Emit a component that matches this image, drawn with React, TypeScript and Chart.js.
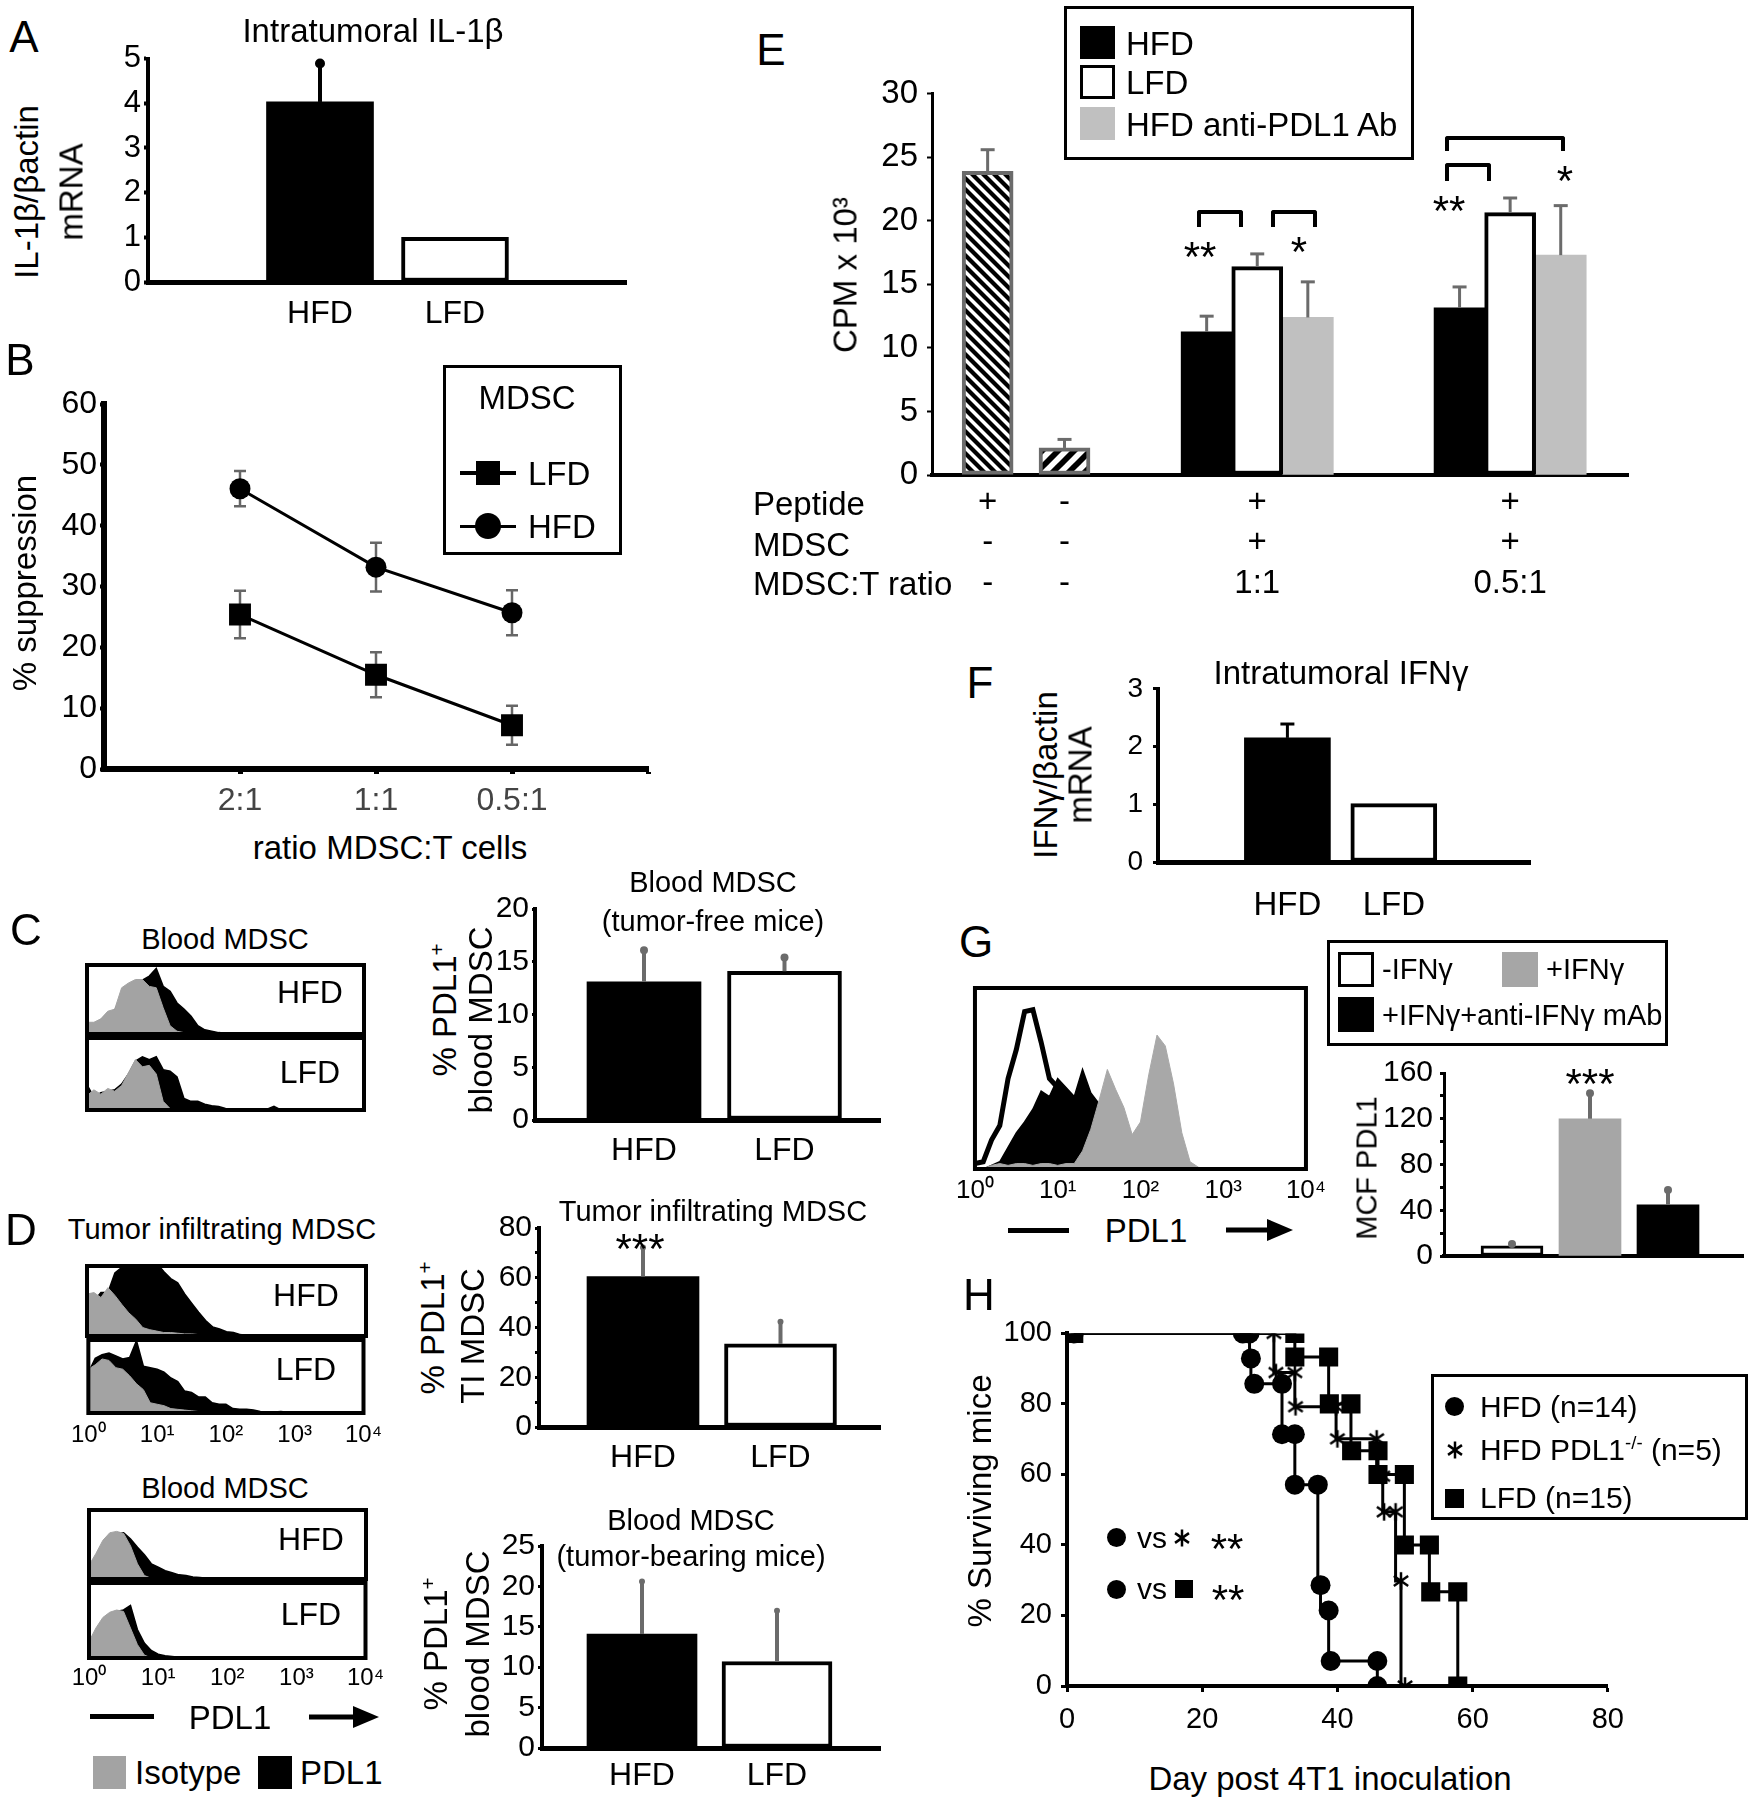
import React, { useEffect, useRef } from 'react';
import { Chart, registerables } from 'chart.js';

Chart.register(...registerables);

const FONT = "'Liberation Sans', Arial, Helvetica, sans-serif";

/* ======================= DATA ======================= */
// A – intratumoral IL-1β / βactin mRNA
const dietLabels = ['HFD', 'LFD'];
const il1bMean = [4.03, 1.0];
const il1bErr = [0.86, 0];

// B – % suppression vs MDSC:T ratio
const ratioLabels = ['2:1', '1:1', '0.5:1'];
const suppressionLFD = [25.4, 15.5, 7.2];
const suppressionLFDErr = [3.9, 3.7, 3.2];
const suppressionHFD = [46.1, 33.2, 25.7];
const suppressionHFDErr = [2.9, 4.0, 3.7];

// C – % PDL1+ blood MDSC (tumor-free mice)
const pdl1BloodFree = [13.1, 14.1];
const pdl1BloodFreeErr = [3.0, 1.3];

// D – % PDL1+ tumor infiltrating MDSC, blood MDSC (tumor-bearing)
const pdl1TumorInf = [60.5, 33.4];
const pdl1TumorInfErr = [11.7, 8.9];
const pdl1BloodTB = [14.1, 10.7];
const pdl1BloodTBErr = [6.5, 6.3];

// E – CPM x 10^3
const eConditionLabels = [['+', '-', '-'], ['-', '-', '-'], ['+', '+', '1:1'], ['+', '+', '0.5:1']];
const eControlCPM = [23.9, 2.13];
const eControlErr = [1.7, 0.67];
const eHFD = [11.27, 13.16];
const eHFDErr = [1.23, 1.64];
const eLFD = [16.4, 20.65];
const eLFDErr = [1.0, 1.15];
const eAntiPDL1 = [12.4, 17.3];
const eAntiPDL1Err = [2.8, 3.9];

// F – intratumoral IFNγ / βactin mRNA
const ifngMean = [2.15, 1.01];
const ifngErr = [0.24, 0];

// G – MCF PDL1
const mcfLabels = ['-IFNγ', '+IFNγ', '+IFNγ+anti-IFNγ mAb'];
const mcfPDL1 = [9, 120, 44.8];
const mcfPDL1Err = [1.5, 22.4, 12.8];

// H – survival (Kaplan–Meier steps)
const hfdDays = [1, 26, 27, 27.2, 27.7, 31.8, 31.8, 33.7, 33.7, 37.1, 37.5, 38.7, 39, 45.9, 45.9];
const hfdSurv = [100, 100, 100, 92.9, 85.7, 85.7, 71.4, 71.4, 57.1, 57.1, 28.6, 21.4, 7.1, 7.1, 0];
const pdlDays = [1, 30.6, 30.9, 33.7, 33.8, 39.8, 40, 45.8, 46.7, 46.9, 48.6, 49.4, 50];
const pdlSurv = [100, 100, 88.9, 88.9, 79.2, 79.2, 70.1, 70.1, 59.5, 49.4, 49.4, 29.8, 0];
const lfdDays = [1, 33.7, 33.7, 38.7, 38.8, 42, 42.1, 46, 46, 49.9, 49.9, 53.6, 53.8, 57.8, 57.8];
const lfdSurv = [100, 100, 93.3, 93.3, 80, 80, 66.7, 66.7, 60, 60, 40, 40, 26.7, 26.7, 0];

// Flow histograms (event counts, % of panel height, 0.1-decade channels from 10^0)
const decadeLabels = ['10⁰', '10¹', '10²', '10³', '10⁴'];
const HIST_BIN = 0.1;
const cHfdIso = [17, 17, 22, 33, 36, 67, 74, 79, 79, 69, 67, 38, 12, 4, 2, 1, 1, 1, 1, 1, 0];
const cHfdPdl1 = [12, 14, 20, 30, 34, 55, 65, 72, 78, 84, 95, 69, 62, 45, 36, 26, 12, 6, 4, 2, 1, 0];
const cLfdIso = [20, 28, 22, 30, 26, 34, 52, 70, 60, 62, 50, 12, 2, 1, 1, 1, 0];
const cLfdPdl1 = [35, 18, 24, 26, 28, 36, 50, 68, 74, 70, 74, 56, 54, 46, 16, 12, 12, 8, 6, 5, 2, 1, 1, 1, 1, 1, 1, 5, 0];
const dTiHfdIso = [60, 62, 55, 69, 58, 45, 33, 24, 12, 9, 7, 5, 5, 4, 3, 3, 2, 2, 2, 1, 1, 1, 1, 1, 0];
const dTiHfdPdl1 = [40, 50, 62, 62, 90, 98, 106, 106, 106, 106, 104, 92, 82, 76, 60, 47, 34, 22, 13, 10, 6, 5, 2, 0];
const dTiLfdIso = [60, 66, 74, 72, 62, 60, 51, 40, 32, 14, 12, 10, 6, 5, 4, 3, 2, 2, 2, 2, 2, 2, 2, 2, 1, 1, 1, 1, 3, 0];
const dTiLfdPdl1 = [55, 75, 80, 82, 78, 74, 76, 99, 64, 62, 60, 56, 48, 43, 30, 28, 22, 22, 14, 12, 12, 6, 5, 5, 4, 2, 1, 0];
const dBlHfdIso = [20, 37, 56, 67, 69, 66, 48, 22, 5, 1, 0];
const dBlHfdPdl1 = [15, 30, 50, 60, 66, 67, 58, 46, 35, 22, 17, 12, 9, 6, 5, 3, 2, 1, 0];
const dBlLfdIso = [22, 40, 54, 61, 64, 62, 40, 18, 4, 0];
const dBlLfdPdl1 = [18, 35, 50, 58, 62, 64, 70, 38, 20, 10, 5, 3, 2, 1, 1, 1, 1, 1, 1, 1, 0];
const gMinusIFN = [3, 4, 16, 24, 50, 66, 87, 88, 70, 50, 45, 30, 12, 3, 3, 3, 3, 2, 3, 2, 2, 3, 2, 2, 2, 2, 0];
const gPlusAnti = [0, 0, 2, 4, 12, 20, 26, 33, 43, 40, 50, 45, 40, 55, 42, 36, 22, 10, 5, 3, 3, 2, 2, 2, 1, 1, 0];
const gPlusIFN = [0, 0, 2, 3, 2, 3, 3, 2, 3, 3, 2, 3, 3, 10, 22, 38, 55, 44, 34, 19, 26, 52, 74, 68, 47, 20, 4, 1, 0];

/* ======================= PLUGINS ======================= */
function drawErr(chart: any) {
  const ctx = chart.ctx;
  const ys = chart.scales.y;
  chart.data.datasets.forEach((ds: any, di: number) => {
    if (!ds.errUp) return;
    const meta = chart.getDatasetMeta(di);
    const st = ds.errStyle;
    meta.data.forEach((el: any, i: number) => {
      const up = ds.errUp[i] || 0;
      const dn = ds.errDown ? ds.errDown[i] || 0 : 0;
      if (!up && !dn) return;
      const d = ds.data[i];
      const v = typeof d === 'number' ? d : d.y;
      const x = el.x;
      const yT = ys.getPixelForValue(v + up);
      const yB = ys.getPixelForValue(v - dn);
      ctx.save();
      ctx.strokeStyle = st.color;
      ctx.fillStyle = st.color;
      ctx.lineWidth = st.width;
      ctx.beginPath();
      ctx.moveTo(x, yB);
      ctx.lineTo(x, yT);
      ctx.stroke();
      if (st.cap === 'dot') {
        ctx.beginPath();
        ctx.arc(x, yT, st.size, 0, Math.PI * 2);
        ctx.fill();
      } else {
        ctx.beginPath();
        ctx.moveTo(x - st.size, yT);
        ctx.lineTo(x + st.size, yT);
        if (dn) {
          ctx.moveTo(x - st.size, yB);
          ctx.lineTo(x + st.size, yB);
        }
        ctx.stroke();
      }
      ctx.restore();
    });
  });
}

const errPlugin = {
  id: 'errbars',
  beforeDatasetsDraw(chart: any, _a: any, opts: any) {
    if (opts && opts.behind) drawErr(chart);
  },
  afterDatasetsDraw(chart: any, _a: any, opts: any) {
    if (!opts || !opts.behind) drawErr(chart);
  },
};

const framePlugin = {
  id: 'frame',
  afterDraw(chart: any, _a: any, opts: any) {
    const { left, top, right, bottom } = chart.chartArea;
    const ctx = chart.ctx;
    ctx.save();
    ctx.strokeStyle = '#000';
    ctx.lineWidth = (opts && opts.width) || 4;
    ctx.strokeRect(left, top, right - left, bottom - top);
    ctx.restore();
  },
};

/* ======================= HELPERS ======================= */
interface Box4 { l: number; t: number; r: number; b: number }
interface Spec { area: Box4; pad: Box4; build: () => any }

function base(pad: Box4, yShown: boolean, xShown: boolean, extraPlugins: any = {}) {
  return {
    responsive: false,
    maintainAspectRatio: false,
    animation: false,
    devicePixelRatio: 1,
    events: [],
    layout: { padding: { left: yShown ? 0 : pad.l, right: pad.r, top: pad.t, bottom: xShown ? 0 : pad.b } },
    plugins: { legend: { display: false }, tooltip: { enabled: false }, ...extraPlugins },
  };
}

function yLin(pad: Box4, o: any) {
  return {
    type: 'linear',
    position: 'left',
    min: o.min,
    max: o.max,
    afterFit: (s: any) => { s.width = pad.l; },
    ticks: {
      stepSize: o.step,
      autoSkip: false,
      font: { family: FONT, size: o.font },
      color: '#000',
      padding: o.pad,
      callback: (v: number) => (o.every && v % o.every !== 0 ? '' : String(v)),
    },
    grid: { display: true, drawOnChartArea: false, drawTicks: true, tickLength: o.tl, tickWidth: o.tw ?? 3, tickColor: '#000' },
    border: { display: true, color: '#000', width: o.bw },
  };
}

function xCat(area: Box4, pad: Box4, labels: string[], c1: number, cN: number, o: any) {
  const n = labels.length;
  const k = (cN - c1) / (n - 1);
  const min = 1 - (c1 - area.l) / k;
  const max = min + (area.r - area.l) / k;
  return {
    type: 'linear',
    position: 'bottom',
    offset: false,
    min,
    max,
    afterFit: (s: any) => { s.height = pad.b; },
    afterBuildTicks: (s: any) => { s.ticks = labels.map((_, i) => ({ value: i + 1 })); },
    ticks: {
      display: o.show !== false,
      autoSkip: false,
      maxRotation: 0,
      minRotation: 0,
      font: { family: FONT, size: o.font || 30 },
      color: '#000',
      padding: o.pad || 0,
      callback: (_v: any, i: number) => labels[i],
    },
    grid: { display: false, drawTicks: false, offset: false },
    border: { display: true, color: '#000', width: o.bw },
  };
}

function barSpec(p: any): Spec {
  return {
    area: p.area,
    pad: p.pad,
    build: () => ({
      type: 'bar',
      data: {
        datasets: [
          {
            data: p.values.map((v: number, i: number) => ({ x: i + 1, y: v })),
            backgroundColor: p.colors,
            borderColor: '#000',
            borderWidth: p.borders,
            borderSkipped: false,
            barThickness: p.width,
            errUp: p.errs,
            errStyle: p.err,
          },
        ],
      },
      options: {
        ...base(p.pad, true, true),
        scales: {
          x: xCat(p.area, p.pad, p.labels, p.c1, p.cN, p.x),
          y: yLin(p.pad, p.y),
        },
      },
      plugins: [errPlugin],
    }),
  };
}

function histSpec(area: Box4, layers: any[], ticks: any): Spec {
  const pad = { l: 24, t: 4, r: 24, b: ticks ? 36 : 4 };
  return {
    area,
    pad,
    build: () => ({
      type: 'line',
      data: {
        datasets: layers.map((L) => ({
          data: L.values.map((v: number, i: number) => ({ x: i * HIST_BIN, y: v })),
          fill: 'origin',
          backgroundColor: L.fill,
          borderColor: L.stroke,
          borderWidth: L.width,
          pointRadius: 0,
          tension: 0,
        })),
      },
      options: {
        ...base(pad, false, !!ticks, { frame: { width: 4 } }),
        scales: {
          x: {
            type: 'linear',
            min: 0,
            max: 4,
            display: !!ticks,
            afterFit: (s: any) => { s.height = pad.b; },
            ticks: {
              stepSize: 1,
              autoSkip: false,
              maxRotation: 0,
              font: { family: FONT, size: ticks ? ticks.font : 12 },
              color: '#000',
              padding: ticks ? ticks.pad : 0,
              callback: (v: number) => decadeLabels[v],
            },
            grid: { display: false, drawTicks: false },
            border: { display: false },
          },
          y: { display: false, min: 0, max: 100 },
        },
      },
      plugins: [framePlugin],
    }),
  };
}

function stripePattern(p: number, lw: number, dir: 'back' | 'fwd') {
  const c = document.createElement('canvas');
  c.width = p;
  c.height = p;
  const g = c.getContext('2d') as CanvasRenderingContext2D;
  g.fillStyle = '#fff';
  g.fillRect(0, 0, p, p);
  g.strokeStyle = '#000';
  g.lineWidth = lw;
  for (let k = -2; k <= 2; k++) {
    g.beginPath();
    if (dir === 'back') {
      g.moveTo(k * p - p, -p);
      g.lineTo(k * p + 2 * p, 2 * p);
    } else {
      g.moveTo(k * p - p, 2 * p);
      g.lineTo(k * p + 2 * p, -p);
    }
    g.stroke();
  }
  return g.createPattern(c, 'repeat');
}

function asteriskCanvas(size: number, lw: number) {
  const c = document.createElement('canvas');
  c.width = size;
  c.height = size;
  const g = c.getContext('2d') as CanvasRenderingContext2D;
  g.strokeStyle = '#000';
  g.lineWidth = lw;
  const m = size / 2;
  const r = size / 2 - lw / 2;
  g.beginPath();
  [90, 35, 145].forEach((a) => {
    const rad = (a * Math.PI) / 180;
    g.moveTo(m - r * Math.cos(rad), m - r * Math.sin(rad));
    g.lineTo(m + r * Math.cos(rad), m + r * Math.sin(rad));
  });
  g.stroke();
  return c;
}

/* ======================= CHART SPECS ======================= */
const grayErr = (size: number) => ({ color: '#6b6b6b', width: 4, cap: 'dot', size });

const specA = barSpec({
  area: { l: 148, t: 57, r: 626, b: 282 },
  pad: { l: 80, t: 20, r: 12, b: 50 },
  labels: dietLabels, values: il1bMean, errs: il1bErr,
  colors: ['#000', '#fff'], borders: [0, 4], width: 107, c1: 320, cN: 455,
  err: { color: '#000', width: 4, cap: 'dot', size: 5 },
  x: { font: 32, pad: 13, bw: 5 },
  y: { min: 0, max: 5, step: 1, font: 31, pad: 3, tl: 4, tw: 4, bw: 4 },
});

const specC = barSpec({
  area: { l: 535, t: 908, r: 880, b: 1120 },
  pad: { l: 60, t: 20, r: 6, b: 48 },
  labels: dietLabels, values: pdl1BloodFree, errs: pdl1BloodFreeErr,
  colors: ['#000', '#fff'], borders: [0, 4], width: 114, c1: 644, cN: 784.5,
  err: grayErr(4),
  x: { font: 32, pad: 12, bw: 5 },
  y: { min: 0, max: 20, step: 5, font: 30, pad: 3, tl: 3, tw: 3, bw: 4 },
});

const specDTI = barSpec({
  area: { l: 539, t: 1227, r: 880, b: 1427 },
  pad: { l: 60, t: 20, r: 6, b: 50 },
  labels: dietLabels, values: pdl1TumorInf, errs: pdl1TumorInfErr,
  colors: ['#000', '#fff'], borders: [0, 4], width: 112, c1: 643, cN: 780.5,
  err: grayErr(3),
  x: { font: 32, pad: 12, bw: 5 },
  y: { min: 0, max: 80, step: 10, every: 20, font: 30, pad: 3, tl: 4, tw: 3, bw: 4 },
});

const specDBlood = barSpec({
  area: { l: 542, t: 1545, r: 880, b: 1748 },
  pad: { l: 60, t: 20, r: 6, b: 48 },
  labels: dietLabels, values: pdl1BloodTB, errs: pdl1BloodTBErr,
  colors: ['#000', '#fff'], borders: [0, 4], width: 110, c1: 642, cN: 777,
  err: grayErr(3),
  x: { font: 32, pad: 9, bw: 5 },
  y: { min: 0, max: 25, step: 5, font: 30, pad: 3, tl: 4, tw: 3, bw: 4 },
});

const specF = barSpec({
  area: { l: 1158, t: 682, r: 1530, b: 862 },
  pad: { l: 70, t: 20, r: 12, b: 60 },
  labels: dietLabels, values: ifngMean, errs: ifngErr,
  colors: ['#000', '#fff'], borders: [0, 4], width: 86, c1: 1287.4, cN: 1393.8,
  err: { color: '#000', width: 3, cap: 'line', size: 7 },
  x: { font: 33, pad: 24, bw: 5 },
  y: { min: 0, max: 3, step: 1, font: 28, pad: 10, tl: 5, tw: 3, bw: 4 },
});

const specG = barSpec({
  area: { l: 1444, t: 1068, r: 1743, b: 1271 },
  pad: { l: 70, t: 20, r: 8, b: 10 },
  labels: mcfLabels, values: mcfPDL1, errs: mcfPDL1Err,
  colors: ['#fff', '#a6a6a6', '#000'], borders: [3, 0, 0], width: 62, c1: 1512, cN: 1668,
  err: grayErr(4),
  x: { show: false, bw: 4 },
  y: { min: 0, max: 160, step: 20, every: 40, font: 30, pad: 7, tl: 4, tw: 3, bw: 3 },
});

const padB = { l: 90, t: 20, r: 16, b: 50 };
const areaB = { l: 104, t: 402, r: 648, b: 769 };
const specB: Spec = {
  area: areaB,
  pad: padB,
  build: () => {
    const pts = (vals: number[]) => vals.map((v, i) => ({ x: i + 1, y: v }));
    const common = { borderColor: '#000', borderWidth: 3, pointBackgroundColor: '#000', pointBorderColor: '#000', pointBorderWidth: 0, fill: false, tension: 0, errStyle: { color: '#666', width: 2.5, cap: 'line', size: 6 } };
    const xLabels = [...ratioLabels, ''];
    return {
      type: 'line',
      data: {
        datasets: [
          { ...common, data: pts(suppressionLFD), pointStyle: 'rect', pointRadius: 15.5, errUp: suppressionLFDErr, errDown: suppressionLFDErr },
          { ...common, data: pts(suppressionHFD), pointStyle: 'circle', pointRadius: 10.5, errUp: suppressionHFDErr, errDown: suppressionHFDErr },
        ],
      },
      options: {
        ...base(padB, true, true, { errbars: { behind: true } }),
        scales: {
          x: {
            type: 'linear', min: 0, max: 4, offset: false,
            afterFit: (s: any) => { s.height = padB.b; },
            afterBuildTicks: (s: any) => { s.ticks = xLabels.map((_, i) => ({ value: i + 1 })); },
            ticks: { autoSkip: false, maxRotation: 0, font: { family: FONT, size: 32 }, color: '#444', padding: 8, callback: (_v: any, i: number) => xLabels[i] },
            grid: { display: true, drawOnChartArea: false, drawTicks: true, tickLength: 5, tickWidth: 5, tickColor: '#000' },
            border: { display: true, color: '#000', width: 6 },
          },
          y: yLin(padB, { min: 0, max: 60, step: 10, font: 32, pad: 3, tl: 4, tw: 4, bw: 6 }),
        },
      },
      plugins: [errPlugin],
    };
  },
};

// E: condition centres measured in bar widths from the y axis
const eSlot = [1.1, 2.62, 6.43, 11.43];
const padE = { l: 80, t: 20, r: 20, b: 130 };
const areaE = { l: 932, t: 85, r: 1628, b: 475 };
const specE: Spec = {
  area: areaE,
  pad: padE,
  build: () => {
    const p1 = stripePattern(11, 4.2, 'back');
    const p2 = stripePattern(16, 5.8, 'fwd');
    const grp = (vals: number[], off: number) => vals.map((v, i) => ({ x: eSlot[i + 2] + off, y: v }));
    const errStyle = { color: '#6b6b6b', width: 3, cap: 'line', size: 7 };
    const ds = [
      { data: eControlCPM.map((v, i) => ({ x: eSlot[i], y: v })), backgroundColor: [p1, p2], borderColor: '#6b6b6b', borderWidth: 4, errUp: eControlErr },
      { data: grp(eHFD, -1), backgroundColor: '#000', borderColor: '#000', borderWidth: 0, errUp: eHFDErr },
      { data: grp(eLFD, 0), backgroundColor: '#fff', borderColor: '#000', borderWidth: 4, errUp: eLFDErr },
      { data: grp(eAntiPDL1, 1), backgroundColor: '#c0c0c0', borderColor: '#c0c0c0', borderWidth: 0, errUp: eAntiPDL1Err },
    ].map((d) => ({ ...d, type: 'bar', grouped: false, barThickness: 51, borderSkipped: false, errStyle }));
    return {
      type: 'bar',
      data: { datasets: ds },
      options: {
        ...base(padE, true, true),
        scales: {
          x: {
            type: 'linear', min: 0, max: 13.76, offset: false,
            afterFit: (s: any) => { s.height = padE.b; },
            afterBuildTicks: (s: any) => { s.ticks = eSlot.map((v) => ({ value: v })); },
            ticks: { autoSkip: false, maxRotation: 0, font: { family: FONT, size: 33, lineHeight: 1.22 }, color: '#000', padding: 8, callback: (_v: any, i: number) => eConditionLabels[i] },
            grid: { display: false, drawTicks: false, offset: false },
            border: { display: true, color: '#000', width: 4 },
          },
          y: yLin(padE, { min: 0, max: 30, step: 5, font: 33, pad: 9, tl: 5, tw: 2, bw: 3 }),
        },
      },
      plugins: [errPlugin],
    };
  },
};

const padH = { l: 80, t: 20, r: 25, b: 60 };
const areaH = { l: 1067, t: 1327, r: 1610, b: 1686 };
const specH: Spec = {
  area: areaH,
  pad: padH,
  build: () => {
    const star = asteriskCanvas(20, 2.5);
    const mk = (days: number[], surv: number[]) => days.map((d, i) => ({ x: d, y: surv[i] }));
    const common = { stepped: 'after', borderColor: '#000', borderWidth: 3, backgroundColor: '#000', pointBackgroundColor: '#000', pointBorderColor: '#000', pointBorderWidth: 0, fill: false };
    return {
      type: 'line',
      data: {
        datasets: [
          { ...common, data: mk(lfdDays, lfdSurv), pointStyle: 'rect', pointRadius: 13.5 },
          { ...common, data: mk(hfdDays, hfdSurv), pointStyle: 'circle', pointRadius: 10 },
          { ...common, data: mk(pdlDays, pdlSurv), pointStyle: star, pointRadius: 10 },
        ],
      },
      options: {
        ...base(padH, true, true),
        scales: {
          x: {
            type: 'linear', min: 0, max: 80,
            afterFit: (s: any) => { s.height = padH.b; },
            ticks: { stepSize: 20, autoSkip: false, maxRotation: 0, font: { family: FONT, size: 29 }, color: '#000', padding: 11 },
            grid: { display: true, drawOnChartArea: false, drawTicks: true, tickLength: 6, tickWidth: 3, tickColor: '#000' },
            border: { display: true, color: '#000', width: 4 },
          },
          y: yLin(padH, { min: 0, max: 100, step: 20, font: 29, pad: 9, tl: 6, tw: 3, bw: 4 }),
        },
      },
    };
  },
};

const ISO_GRAY = '#a3a3a3';
const isoLayer = (values: number[]) => ({ values, fill: ISO_GRAY, stroke: ISO_GRAY, width: 1 });
const pdlLayer = (values: number[]) => ({ values, fill: '#000', stroke: '#000', width: 1.5 });

const histSpecs: Spec[] = [
  histSpec({ l: 87, t: 965, r: 364, b: 1038 }, [isoLayer(cHfdIso), pdlLayer(cHfdPdl1)], null),
  histSpec({ l: 87, t: 1038, r: 364, b: 1114 }, [isoLayer(cLfdIso), pdlLayer(cLfdPdl1)], null),
  histSpec({ l: 87, t: 1266, r: 366, b: 1340 }, [isoLayer(dTiHfdIso), pdlLayer(dTiHfdPdl1)], null),
  histSpec({ l: 87, t: 1340, r: 366, b: 1413 }, [isoLayer(dTiLfdIso), pdlLayer(dTiLfdPdl1)], { font: 24, pad: 8 }),
  histSpec({ l: 89, t: 1510, r: 366, b: 1583 }, [isoLayer(dBlHfdIso), pdlLayer(dBlHfdPdl1)], null),
  histSpec({ l: 89, t: 1583, r: 366, b: 1658 }, [isoLayer(dBlLfdIso), pdlLayer(dBlLfdPdl1)], { font: 24, pad: 6 }),
  histSpec(
    { l: 974, t: 988, r: 1308, b: 1169 },
    [
      { values: gPlusIFN, fill: '#a8a8a8', stroke: '#a8a8a8', width: 1 },
      { values: gPlusAnti, fill: '#000', stroke: '#000', width: 1.5 },
      { values: gMinusIFN, fill: '#fff', stroke: '#000', width: 5 },
    ],
    { font: 26, pad: 6 },
  ),
];

const allSpecs: Spec[] = [specA, specB, specC, specDTI, specDBlood, specE, specF, specG, specH, ...histSpecs];

/* ======================= COMPONENTS ======================= */
function Plot({ spec }: { spec: Spec }) {
  const ref = useRef<HTMLCanvasElement | null>(null);
  const { area, pad } = spec;
  const w = area.r - area.l + pad.l + pad.r;
  const h = area.b - area.t + pad.t + pad.b;
  useEffect(() => {
    if (!ref.current) return;
    const chart = new Chart(ref.current, spec.build());
    return () => chart.destroy();
  }, [spec]);
  return (
    <canvas
      ref={ref}
      width={w}
      height={h}
      style={{ position: 'absolute', left: area.l - pad.l, top: area.t - pad.t, width: w, height: h }}
    />
  );
}

function T({ x, y, s, a = 'c', rot = false, children, color = '#000' }: any) {
  let transform = 'translate(-50%, -50%)';
  if (rot) transform = 'translate(-50%, -50%) rotate(-90deg)';
  else if (a === 'l') transform = 'translate(0, -50%)';
  return (
    <div style={{ position: 'absolute', left: x, top: y, transform, fontFamily: FONT, fontSize: s, lineHeight: 1, whiteSpace: 'nowrap', color }}>
      {children}
    </div>
  );
}

function Sup({ children }: any) {
  return <span style={{ fontSize: '0.62em', position: 'relative', top: '-0.6em' }}>{children}</span>;
}

function Stars({ x, y, s = 42, children }: any) {
  return (
    <div style={{ position: 'absolute', left: x, top: y - 0.27 * s, transform: 'translateX(-50%)', fontFamily: FONT, fontSize: s, lineHeight: 1, whiteSpace: 'nowrap' }}>
      {children}
    </div>
  );
}

function Rect({ l, t, w, h, bg = '#000', border, radius }: any) {
  return <div style={{ position: 'absolute', left: l, top: t, width: w, height: h, background: bg, border, boxSizing: 'border-box', borderRadius: radius }} />;
}

function Frame({ l, t, w, h, bw = 3 }: any) {
  return <div style={{ position: 'absolute', left: l, top: t, width: w, height: h, border: `${bw}px solid #000`, boxSizing: 'border-box' }} />;
}

function Bracket({ l, t, w, h }: any) {
  return (
    <div style={{ position: 'absolute', left: l, top: t, width: w, height: h, borderTop: '4px solid #000', borderLeft: '4px solid #000', borderRight: '4px solid #000', boxSizing: 'border-box', borderRadius: '3px 3px 0 0' }} />
  );
}

function Arrow({ x1, x2, y }: any) {
  const w = x2 - x1;
  return (
    <svg style={{ position: 'absolute', left: x1, top: y - 13 }} width={w} height={26}>
      <line x1={0} y1={13} x2={w - 20} y2={13} stroke="#000" strokeWidth={5} />
      <polygon points={`${w - 26},2 ${w},13 ${w - 26},24`} fill="#000" />
    </svg>
  );
}

function StarMark({ x, y, s = 20 }: any) {
  const m = s / 2;
  const r = s / 2 - 1.5;
  const seg = [90, 35, 145].map((a) => {
    const rad = (a * Math.PI) / 180;
    return [m - r * Math.cos(rad), m - r * Math.sin(rad), m + r * Math.cos(rad), m + r * Math.sin(rad)];
  });
  return (
    <svg style={{ position: 'absolute', left: x - m, top: y - m }} width={s} height={s}>
      {seg.map((q, i) => (
        <line key={i} x1={q[0]} y1={q[1]} x2={q[2]} y2={q[3]} stroke="#000" strokeWidth={2.5} />
      ))}
    </svg>
  );
}

export default function App() {
  return (
    <div style={{ position: 'absolute', left: 0, top: 0, width: 1755, height: 1800, background: '#fff', overflow: 'hidden' }}>
      {allSpecs.map((s, i) => (
        <Plot key={i} spec={s} />
      ))}

      {/* ---------- A ---------- */}
      <T x={24} y={37} s={44}>A</T>
      <T x={373} y={30} s={33}>Intratumoral IL-1β</T>
      <T x={26} y={192} s={33} rot>IL-1β/βactin</T>
      <T x={71} y={192} s={33} rot>mRNA</T>

      {/* ---------- B ---------- */}
      <T x={20} y={360} s={44}>B</T>
      <T x={24} y={583} s={33} rot>% suppression</T>
      <T x={390} y={847} s={33}>ratio MDSC:T cells</T>
      <Frame l={443} t={365} w={179} h={190} />
      <T x={527} y={397} s={33}>MDSC</T>
      <Rect l={460} t={471} w={56} h={4} />
      <Rect l={476} t={461} w={24} h={24} />
      <T x={528} y={473} s={33} a="l">LFD</T>
      <Rect l={460} t={525} w={56} h={2.5} />
      <Rect l={475} t={513} w={26} h={26} radius="50%" />
      <T x={528} y={526} s={33} a="l">HFD</T>

      {/* ---------- C ---------- */}
      <T x={26} y={930} s={44}>C</T>
      <T x={225} y={939} s={29}>Blood MDSC</T>
      <T x={310} y={992} s={32}>HFD</T>
      <T x={310} y={1072} s={32}>LFD</T>
      <T x={713} y={882} s={29}>Blood MDSC</T>
      <T x={713} y={921} s={29}>(tumor-free mice)</T>
      <T x={444} y={1010} s={33} rot>% PDL1<Sup>+</Sup></T>
      <T x={480} y={1020} s={33} rot>blood MDSC</T>

      {/* ---------- D ---------- */}
      <T x={21} y={1230} s={44}>D</T>
      <T x={222} y={1229} s={29}>Tumor infiltrating MDSC</T>
      <T x={306} y={1295} s={32}>HFD</T>
      <T x={306} y={1369} s={32}>LFD</T>
      <T x={225} y={1488} s={29}>Blood MDSC</T>
      <T x={311} y={1539} s={32}>HFD</T>
      <T x={311} y={1614} s={32}>LFD</T>
      <Rect l={90} t={1714} w={64} h={5} />
      <T x={230} y={1717} s={33}>PDL1</T>
      <Arrow x1={309} x2={379} y={1717} />
      <Rect l={93} t={1756} w={33} h={33} bg={ISO_GRAY} />
      <T x={135} y={1772} s={33} a="l">Isotype</T>
      <Rect l={258} t={1756} w={34} h={33} />
      <T x={300} y={1772} s={33} a="l">PDL1</T>
      <T x={713} y={1211} s={29}>Tumor infiltrating MDSC</T>
      <Stars x={640} y={1239}>***</Stars>
      <T x={432} y={1328} s={33} rot>% PDL1<Sup>+</Sup></T>
      <T x={472} y={1336} s={33} rot>TI MDSC</T>
      <T x={691} y={1520} s={29}>Blood MDSC</T>
      <T x={691} y={1556} s={29}>(tumor-bearing mice)</T>
      <T x={435} y={1644} s={33} rot>% PDL1<Sup>+</Sup></T>
      <T x={477} y={1644} s={33} rot>blood MDSC</T>

      {/* ---------- E ---------- */}
      <T x={771} y={50} s={44}>E</T>
      <Frame l={1064} t={6} w={350} h={154} />
      <Rect l={1080} t={26} w={35} h={33} />
      <Rect l={1080} t={65} w={35} h={34} bg="#fff" border="3px solid #000" />
      <Rect l={1080} t={107} w={35} h={33} bg="#c0c0c0" />
      <T x={1126} y={43} s={33} a="l">HFD</T>
      <T x={1126} y={82} s={33} a="l">LFD</T>
      <T x={1126} y={124} s={33} a="l">HFD anti-PDL1 Ab</T>
      <T x={845} y={275} s={33} rot>CPM x 10³</T>
      <T x={753} y={503} s={33} a="l">Peptide</T>
      <T x={753} y={544} s={33} a="l">MDSC</T>
      <T x={753} y={583} s={33} a="l">MDSC:T ratio</T>
      <Bracket l={1197} t={210} w={46} h={17} />
      <Bracket l={1271} t={210} w={46} h={17} />
      <Bracket l={1445} t={163} w={46} h={18} />
      <Bracket l={1445} t={136} w={120} h={15} />
      <Stars x={1200} y={247}>**</Stars>
      <Stars x={1299} y={242}>*</Stars>
      <Stars x={1449} y={201}>**</Stars>
      <Stars x={1565} y={171}>*</Stars>

      {/* ---------- F ---------- */}
      <T x={980} y={683} s={44}>F</T>
      <T x={1341} y={672} s={33}>Intratumoral IFNγ</T>
      <T x={1045} y={775} s={33} rot>IFNγ/βactin</T>
      <T x={1080} y={775} s={33} rot>mRNA</T>

      {/* ---------- G ---------- */}
      <T x={976} y={942} s={44}>G</T>
      <Rect l={1008} t={1227.5} w={61} h={5} />
      <T x={1146} y={1230} s={33}>PDL1</T>
      <Arrow x1={1226} x2={1293} y={1230} />
      <Frame l={1327} t={940} w={341} h={106} />
      <Rect l={1338} t={952} w={36} h={35} bg="#fff" border="3px solid #000" />
      <T x={1382} y={969} s={29} a="l">-IFNγ</T>
      <Rect l={1502} t={952} w={36} h={35} bg="#a6a6a6" />
      <T x={1546} y={969} s={29} a="l">+IFNγ</T>
      <Rect l={1338} t={997} w={36} h={35} />
      <T x={1382} y={1015} s={29} a="l">+IFNγ+anti-IFNγ mAb</T>
      <Stars x={1590} y={1074}>***</Stars>
      <T x={1367} y={1168} s={29} rot>MCF PDL1</T>

      {/* ---------- H ---------- */}
      <T x={979} y={1295} s={44}>H</T>
      <T x={979} y={1501} s={33} rot>% Surviving mice</T>
      <T x={1330} y={1778} s={33}>Day post 4T1 inoculation</T>
      <Frame l={1431} t={1374} w={317} h={146} />
      <Rect l={1445} t={1397} w={19} h={19} radius="50%" />
      <T x={1480} y={1407} s={30} a="l">HFD (n=14)</T>
      <StarMark x={1454.5} y={1450} s={20} />
      <T x={1480} y={1450} s={30} a="l">HFD PDL1<Sup>-/-</Sup> (n=5)</T>
      <Rect l={1445} t={1488.5} w={19} h={19} />
      <T x={1480} y={1498} s={30} a="l">LFD (n=15)</T>
      <Rect l={1107} t={1528} w={19} h={19} radius="50%" />
      <T x={1137} y={1538} s={30} a="l">vs</T>
      <StarMark x={1182} y={1538} s={20} />
      <Stars x={1227} y={1539}>**</Stars>
      <Rect l={1107} t={1580} w={19} h={19} radius="50%" />
      <T x={1137} y={1589} s={30} a="l">vs</T>
      <Rect l={1175} t={1580} w={18} h={18} />
      <Stars x={1228} y={1590}>**</Stars>
    </div>
  );
}
